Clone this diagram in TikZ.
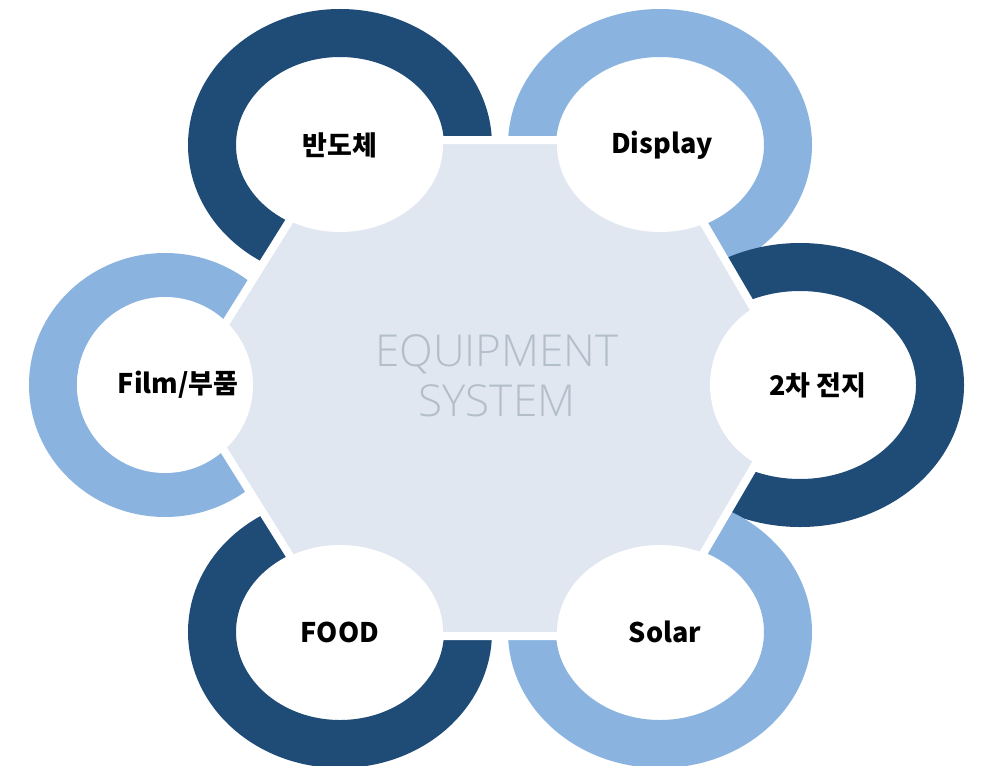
\documentclass[tikz,border=0pt]{standalone}
\usepackage{fontspec}
\newfontfamily\kr{Noto Sans CJK KR}
\newfontfamily\lat{Open Sans Light}[BoldFont={Open Sans}]
\definecolor{dk}{HTML}{1F4B77}
\definecolor{lt}{HTML}{8AB4DF}
\definecolor{hx}{HTML}{E1E7F0}
\definecolor{tx}{HTML}{B3BECB}
\begin{document}
\begin{tikzpicture}[x=1pt,y=-1pt,
  ring/.style={line width=48pt},
  lab/.style={font=\kr\bfseries\fontsize{27}{30}\selectfont, text=black}]
\useasboundingbox (0,0) rectangle (984,765);
\fill[white] (0,0) rectangle (984,765);
% rings
\draw[ring,dk] (340,145) ellipse [x radius=128,y radius=112];
\draw[ring,lt] (660,145) ellipse [x radius=128,y radius=112];
\draw[ring,dk] (800,385) ellipse [x radius=140,y radius=118];
\draw[ring,lt] (660,632) ellipse [x radius=128,y radius=112];
\draw[ring,dk] (340,632) ellipse [x radius=128,y radius=112];
\draw[ring,lt] (165,385) ellipse [x radius=112,y radius=108];
% hexagon
\node[coordinate] (h1) at (340,140) {};
\node[coordinate] (h2) at (655,140) {};
\node[coordinate] (h3) at (800,388) {};
\node[coordinate] (h4) at (655,636) {};
\node[coordinate] (h5) at (340,636) {};
\node[coordinate] (h6) at (185,388) {};
\filldraw[fill=hx,draw=white,line width=8pt,line join=miter] (h1)--(h2)--(h3)--(h4)--(h5)--(h6)--cycle;
% bubbles
\fill[white] (340,145) ellipse [x radius=103,y radius=87];
\fill[white] (660,145) ellipse [x radius=103,y radius=87];
\fill[white] (800,385) ellipse [x radius=90,y radius=90];
\fill[white] (660,632) ellipse [x radius=103,y radius=87];
\fill[white] (340,632) ellipse [x radius=103,y radius=87];
\fill[white] (165,385) ellipse [x radius=88,y radius=88];
\node[lab] (a) at (340,145) {반도체};
\node[lab] (b) at (662,145) {Display};
\node[lab] (c) at (818,385) {2차 전지};
\node[lab] (d) at (665,632) {Solar};
\node[lab] (e) at (340,632) {FOOD};
\node[lab] (f) at (178,385) {Film/부품};
\node[font=\lat\fontsize{44}{50}\selectfont, text=tx, align=center] (t) at (497,376) {EQUIPMENT\\SYSTEM};
\end{tikzpicture}
\end{document}
